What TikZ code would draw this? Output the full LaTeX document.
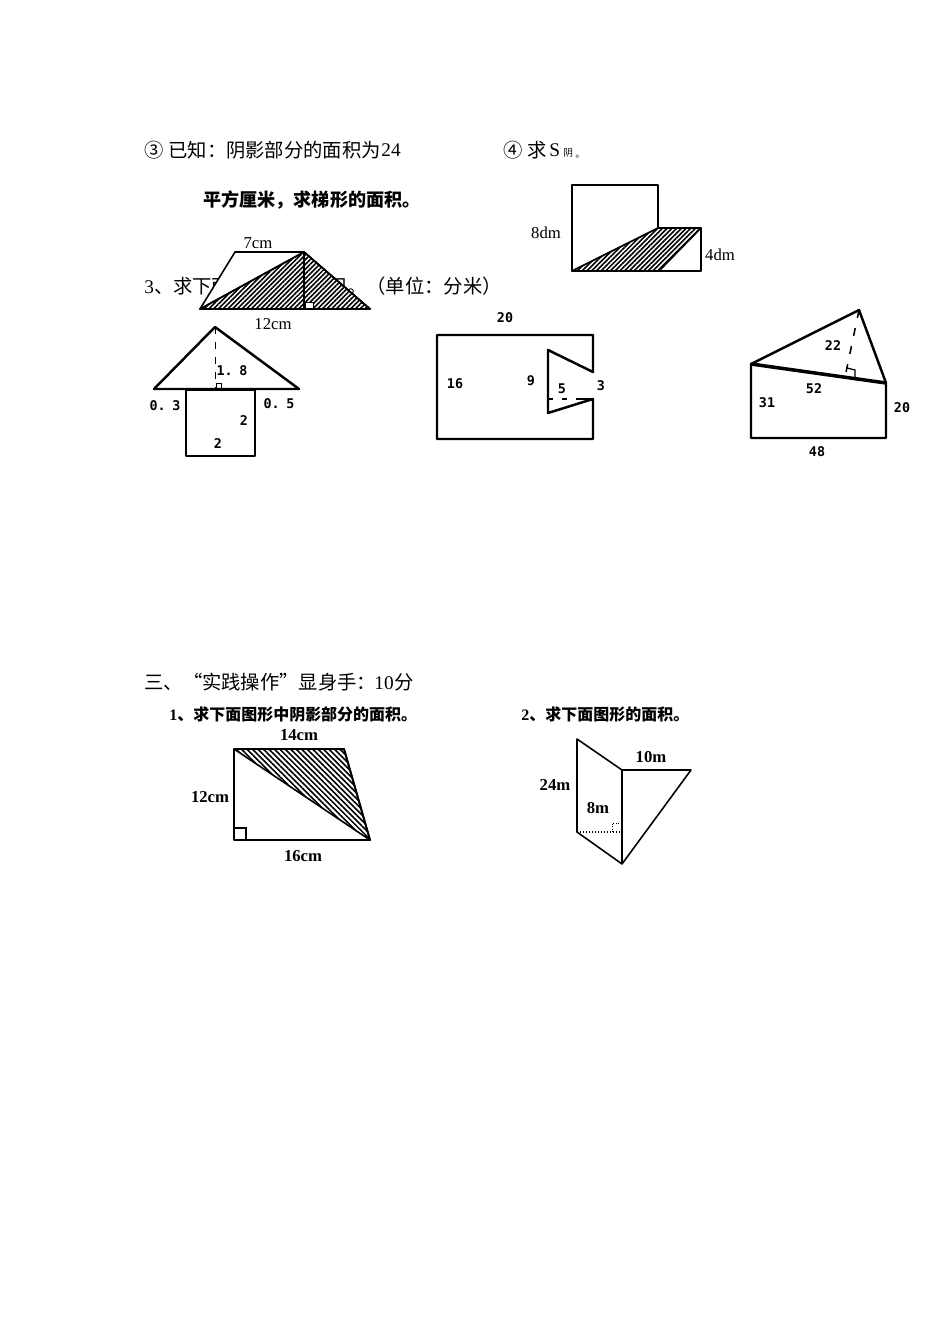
\documentclass[tikz,border=0pt]{standalone}
\usepackage{fontspec}
\usepackage{xcolor}
\setmainfont{Liberation Serif}
\newfontfamily\cjk{Noto Sans CJK SC}
\newfontfamily\numfont[WordSpace=0.5]{DejaVu Sans Mono}
\usetikzlibrary{patterns.meta}
\tikzset{
	txt/.style={anchor=west, inner sep=0pt, font=\fontsize{11}{13}\selectfont},
	bold txt/.style={anchor=west, inner sep=0pt, font=\fontsize{9.1}{11}\selectfont\bfseries},
	dim/.style={inner sep=0pt, yshift=-0.5pt, font=\fontsize{9.5}{11}\selectfont},
	bold dim/.style={inner sep=0pt, yshift=-0.5pt, font=\fontsize{9.5}{11}\selectfont\bfseries},
	hand/.style={inner sep=0pt, font=\fontsize{7.6}{9}\selectfont\numfont\bfseries},
	thin fig/.style={line width=0.9pt, line join=round},
	thick fig/.style={line width=1.4pt, line join=round},
	hatch up/.style={pattern={Lines[angle=45, distance=1.9pt, line width=0.9pt]}},
	hatch down/.style={pattern={Lines[angle=-45, distance=2.2pt, line width=0.9pt]}}
}
\begin{document}
\begin{tikzpicture}[x=0.02cm, y=-0.02cm]
		\useasboundingbox (0,0) rectangle (950,1344);
		\fill[white] (0,0) rectangle (950,1344);
		% text lines
		\node[txt] (q3) at (144,150) {{\cjk ③}};
		\node[txt] (q3a) at (168,150) {{\cjk 已知：阴影部分的面积为}};
		\node[txt] (q3b) at (381,150) {24};
		\node[bold txt, font=\fontsize{10.3}{12}\selectfont\bfseries] (q3c) at (203,200) {{\cjk 平方厘米，求梯形的面积。}};
		\node[txt] (q4) at (503,150) {{\cjk ④}};
		\node[txt] (q4a) at (527,150) {{\cjk 求}};
		\node[txt] (q4b) at (549,150) {S};
		\node[txt, anchor=base west, font=\fontsize{5.5}{6}\selectfont] (q4c) at (563,157) {{\cjk 阴}};
		\node[txt, anchor=base west, font=\fontsize{5.5}{6}\selectfont] (q4d) at (575,158) {{\cjk 。}};
		\node[txt] (sec3) at (144,286) {3{\cjk 、求下面各图形的面积。（单位：分米）}};
		\node[txt] (sec) at (144,682) {{\cjk 三、“实践操作”显身手：}};
		\node[txt] (seca) at (374,683) {10};
		\node[txt] (secb) at (394,682) {{\cjk 分}};
		\node[bold txt] (p1) at (169,714) {1{\cjk 、求下面图形中阴影部分的面积。}};
		\node[bold txt] (p2) at (521,714) {2{\cjk 、求下面图形的面积。}};
		% trapezoid
		\filldraw[thin fig, fill=white] (200,309) -- (235,252) -- (304,252) -- (370,309) -- cycle;
		\filldraw[thin fig, fill=white] (200,309) -- (304,252) -- (370,309) -- cycle;
		\draw[thin fig, hatch up] (200,309) -- (304,252) -- (370,309) -- cycle;
		\draw[thin fig] (304,252) -- (304,309);
		\filldraw[line width=0.4pt, fill=white] (305,302) rectangle (313,309);
		\draw[line width=1.2pt] (200,309) -- (370,309);
		\node[dim] (top) at (258,242) {7cm};
		\node[dim] (base) at (273,323) {12cm};
		% two squares
		\draw[thin fig] (572,271) -- (572,185) -- (658,185) -- (658,228) -- (701,228) -- (701,271) -- cycle;
		\draw[thin fig, hatch up] (572,271) -- (658,228) -- (701,228) -- (659,271) -- cycle;
		\node[dim] (h8) at (546,232) {8dm};
		\node[dim] (h4) at (720,254) {4dm};
		% house
		\draw[thick fig] (154,389) -- (215,327) -- (299,389) -- cycle;
		\draw[thick fig] (186,390) rectangle (255,456);
		\draw[line width=0.75pt, dash pattern=on 4pt off 4.5pt] (215.5,327) -- (215.5,389);
		\draw[line width=0.4pt] (216,383) rectangle (221,389);
		\node[hand] (h1) at (232,371) {1. 8};
		\node[hand] (h2) at (165,406) {0. 3};
		\node[hand] (h3) at (279,404) {0. 5};
		\node[hand] (h4a) at (244,421) {2};
		\node[hand] (h5) at (218,444) {2};
		% notched rectangle
		\draw[thick fig] (593,372) -- (593,335) -- (437,335) -- (437,439) -- (593,439) -- (593,399) -- (548,413) -- (548,350) -- cycle;
		\draw[line width=1.2pt, dash pattern=on 3pt off 5pt] (548,399) -- (593,399);
		\draw[line width=1.4pt] (579,399) -- (593,399);
		\node[hand] (n1) at (505,318) {20};
		\node[hand] (n2) at (455,384) {16};
		\node[hand] (n3) at (531,381) {9};
		\node[hand] (n4) at (562,389) {5};
		\node[hand] (n5) at (601,386) {3};
		% triangle on quadrilateral
		\draw[thick fig] (886,383) -- (886,438) -- (751,438) -- (751,364) -- (859,310) -- cycle;
		\draw[line width=2pt] (751,364) -- (886,383);
		\draw[line width=0.9pt, dash pattern=on 4.5pt off 6pt] (859,310) -- (845,377);
		\draw[line width=0.7pt] (847,368) -- (855,370) -- (855,378);
		\node[hand] (t1) at (833,346) {22};
		\node[hand] (t2) at (814,389) {52};
		\node[hand] (t3) at (767,403) {31};
		\node[hand] (t4) at (902,408) {20};
		\node[hand] (t5) at (817,452) {48};
		% shaded trapezoid
		\draw[thin fig, line width=1.1pt] (234,749) -- (344,749) -- (370,840) -- (234,840) -- cycle;
		\draw[thin fig, hatch down] (234,749) -- (344,749) -- (370,840) -- cycle;
		\draw[line width=0.6pt] (234,828) -- (246,828) -- (246,840);
		\node[bold dim] (a1) at (299,734) {14cm};
		\node[bold dim] (a2) at (210,796) {12cm};
		\node[bold dim] (a3) at (303,855) {16cm};
		% kite
		\draw[thin fig] (622,770) -- (577,739) -- (577,832) -- (622,864) -- (691,770) -- cycle;
		\draw[line width=1.5pt] (622,770) -- (622,864);
		\draw[line width=0.7pt, densely dotted] (577,832) -- (622,832);
		\draw[line width=0.5pt, densely dotted] (622,823) -- (612,823) -- (612,832);
		\node[bold dim] (b1) at (555,784) {24m};
		\node[bold dim] (b2) at (598,807) {8m};
		\node[bold dim] (b3) at (651,756) {10m};
	\end{tikzpicture}
\end{document}
